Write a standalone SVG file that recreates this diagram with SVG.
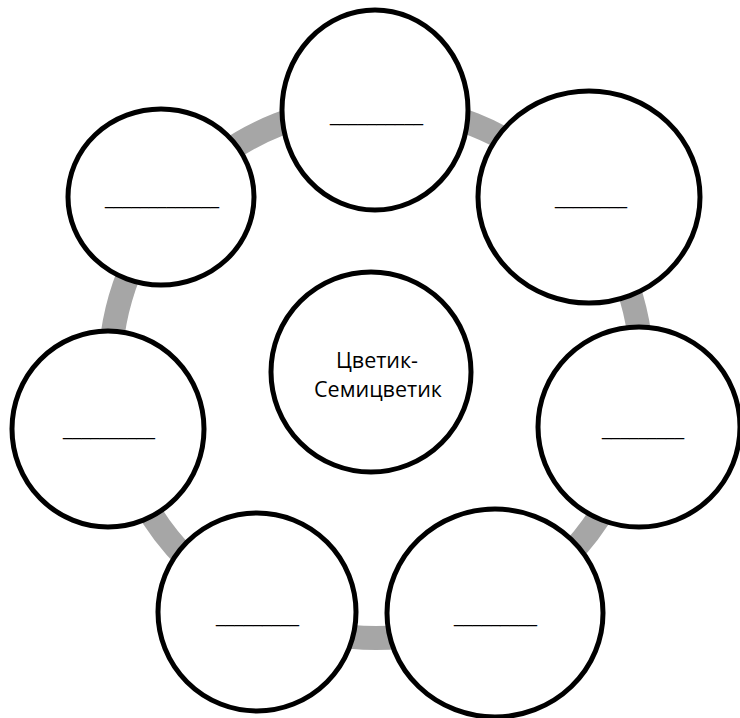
<svg xmlns="http://www.w3.org/2000/svg" width="740" height="718" viewBox="0 0 740 718">
<style>
.node{fill:#fff;stroke:#000;stroke-width:5}
.ring{fill:none;stroke:#A6A6A6;stroke-width:24}
.t{font-family:"Open Sans","Liberation Sans",sans-serif;font-size:21.5px;fill:#000;text-anchor:middle}
.u{font-family:"Liberation Sans",sans-serif;font-size:18px;fill:#000}
</style>
<g id="connectors">
<circle class="ring" cx="376" cy="372" r="266"/>
</g>
<g id="center">
<circle class="node" cx="371" cy="372" r="100"/>
<text class="t" x="377" y="368">Цветик-</text>
<text class="t" x="378" y="397">Семицветик</text>
</g>
<g id="n-top">
<ellipse class="node" cx="375" cy="110" rx="93" ry="100"/>
<text class="u" x="330" y="121" textLength="93" lengthAdjust="spacingAndGlyphs">__________</text>
</g>
<g id="n-upper-right">
<ellipse class="node" cx="589" cy="197" rx="111" ry="106"/>
<text class="u" x="555" y="204" textLength="72" lengthAdjust="spacingAndGlyphs">________</text>
</g>
<g id="n-right">
<ellipse class="node" cx="639" cy="427" rx="101" ry="100"/>
<text class="u" x="602" y="435" textLength="82" lengthAdjust="spacingAndGlyphs">_________</text>
</g>
<g id="n-bottom-right">
<ellipse class="node" cx="495" cy="613" rx="108" ry="104"/>
<text class="u" x="454" y="622" textLength="83" lengthAdjust="spacingAndGlyphs">_________</text>
</g>
<g id="n-bottom-left">
<ellipse class="node" cx="257" cy="612" rx="99" ry="99"/>
<text class="u" x="216" y="622" textLength="83" lengthAdjust="spacingAndGlyphs">_________</text>
</g>
<g id="n-left">
<ellipse class="node" cx="108" cy="429" rx="96" ry="98"/>
<text class="u" x="63" y="435" textLength="92" lengthAdjust="spacingAndGlyphs">__________</text>
</g>
<g id="n-upper-left">
<ellipse class="node" cx="161" cy="197" rx="93" ry="88"/>
<text class="u" x="105" y="204" textLength="114" lengthAdjust="spacingAndGlyphs">_____________</text>
</g>
</svg>
